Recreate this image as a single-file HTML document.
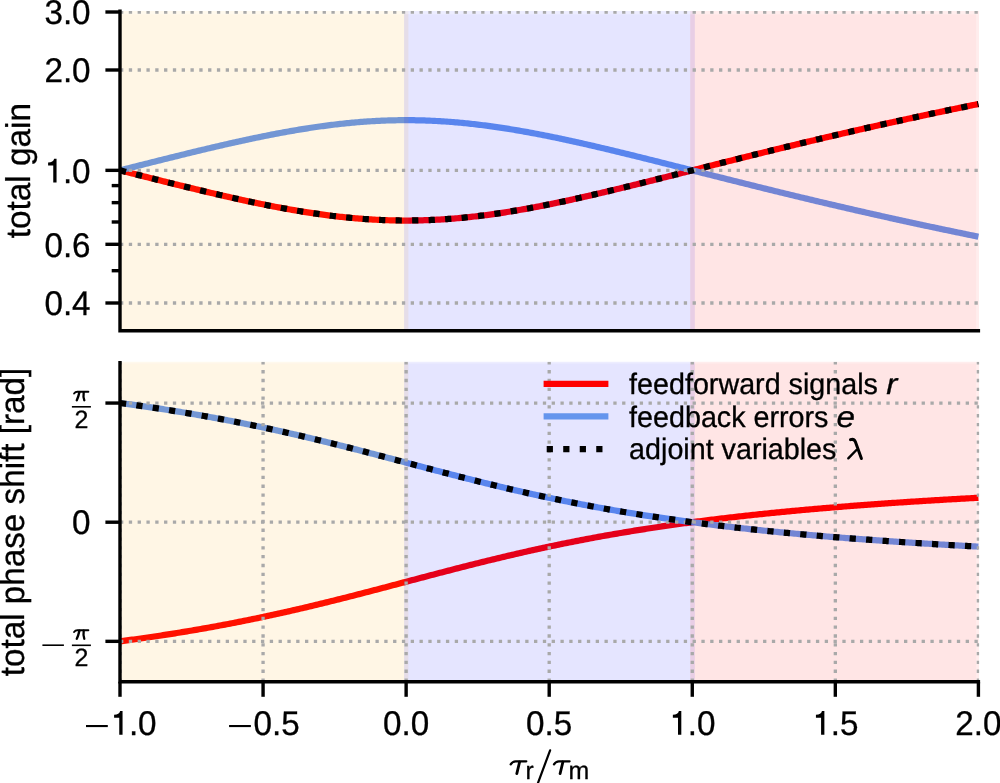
<!DOCTYPE html><html><head><meta charset="utf-8"><style>html,body{margin:0;padding:0;background:#fff;overflow:hidden}svg{display:block;will-change:transform}text{font-family:"Liberation Sans",sans-serif;text-rendering:geometricPrecision;fill:#000;stroke:#000;stroke-width:0.3px}</style></head><body>
<svg width="1000" height="783" viewBox="0 0 1000 783">
<defs><clipPath id="ct"><rect x="120.0" y="10.9" width="859.1" height="319.90000000000003"/></clipPath><clipPath id="cb"><rect x="120.0" y="361.8" width="859.1" height="319.90000000000003"/></clipPath></defs>
<g clip-path="url(#ct)" fill="none">
<path d="M120.00,170.35 L121.72,170.79 L123.44,171.22 L125.16,171.66 L126.88,172.09 L128.60,172.53 L130.32,172.96 L132.04,173.40 L133.76,173.83 L135.48,174.26 L137.20,174.70 L138.92,175.13 L140.64,175.57 L142.36,176.00 L144.08,176.43 L145.80,176.87 L147.52,177.30 L149.24,177.73 L150.96,178.17 L152.68,178.60 L154.40,179.03 L156.13,179.46 L157.85,179.89 L159.57,180.32 L161.29,180.75 L163.01,181.18 L164.73,181.61 L166.45,182.04 L168.17,182.47 L169.89,182.90 L171.61,183.32 L173.33,183.75 L175.05,184.18 L176.77,184.60 L178.49,185.03 L180.21,185.45 L181.93,185.87 L183.65,186.30 L185.37,186.72 L187.09,187.14 L188.81,187.56 L190.53,187.98 L192.25,188.39 L193.97,188.81 L195.69,189.23 L197.41,189.64 L199.13,190.05 L200.85,190.47 L202.57,190.88 L204.29,191.29 L206.01,191.70 L207.73,192.11 L209.45,192.51 L211.17,192.92 L212.89,193.32 L214.61,193.73 L216.33,194.13 L218.05,194.53 L219.77,194.93 L221.49,195.33 L223.21,195.72 L224.93,196.12 L226.65,196.51 L228.38,196.90 L230.10,197.29 L231.82,197.68 L233.54,198.06 L235.26,198.45 L236.98,198.83 L238.70,199.21 L240.42,199.59 L242.14,199.96 L243.86,200.34 L245.58,200.71 L247.30,201.08 L249.02,201.45 L250.74,201.81 L252.46,202.18 L254.18,202.54 L255.90,202.90 L257.62,203.26 L259.34,203.61 L261.06,203.96 L262.78,204.31 L264.50,204.66 L266.22,205.01 L267.94,205.35 L269.66,205.69 L271.38,206.02 L273.10,206.36 L274.82,206.69 L276.54,207.02 L278.26,207.34 L279.98,207.67 L281.70,207.99 L283.42,208.30 L285.14,208.62 L286.86,208.93 L288.58,209.24 L290.30,209.54 L292.02,209.84 L293.74,210.14 L295.46,210.43 L297.18,210.72 L298.91,211.01 L300.63,211.30 L302.35,211.58 L304.07,211.85 L305.79,212.13 L307.51,212.40 L309.23,212.66 L310.95,212.93 L312.67,213.19 L314.39,213.44 L316.11,213.69 L317.83,213.94 L319.55,214.18 L321.27,214.42 L322.99,214.66 L324.71,214.89 L326.43,215.11 L328.15,215.34 L329.87,215.56 L331.59,215.77 L333.31,215.98 L335.03,216.19 L336.75,216.39 L338.47,216.59 L340.19,216.78 L341.91,216.97 L343.63,217.15 L345.35,217.33 L347.07,217.50 L348.79,217.67 L350.51,217.84 L352.23,218.00 L353.95,218.16 L355.67,218.31 L357.39,218.45 L359.11,218.60 L360.83,218.73 L362.55,218.86 L364.27,218.99 L365.99,219.11 L367.71,219.23 L369.43,219.34 L371.16,219.45 L372.88,219.55 L374.60,219.65 L376.32,219.74 L378.04,219.83 L379.76,219.91 L381.48,219.99 L383.20,220.06 L384.92,220.13 L386.64,220.19 L388.36,220.25 L390.08,220.30 L391.80,220.34 L393.52,220.38 L395.24,220.42 L396.96,220.45 L398.68,220.48 L400.40,220.50 L402.12,220.51 L403.84,220.52 L405.56,220.52 L407.28,220.52 L409.00,220.52 L410.72,220.51 L412.44,220.49 L414.16,220.47 L415.88,220.44 L417.60,220.41 L419.32,220.37 L421.04,220.33 L422.76,220.28 L424.48,220.23 L426.20,220.17 L427.92,220.11 L429.64,220.04 L431.36,219.96 L433.08,219.88 L434.80,219.80 L436.52,219.71 L438.24,219.62 L439.96,219.52 L441.68,219.42 L443.41,219.31 L445.13,219.19 L446.85,219.07 L448.57,218.95 L450.29,218.82 L452.01,218.69 L453.73,218.55 L455.45,218.41 L457.17,218.26 L458.89,218.10 L460.61,217.95 L462.33,217.78 L464.05,217.62 L465.77,217.45 L467.49,217.27 L469.21,217.09 L470.93,216.90 L472.65,216.71 L474.37,216.52 L476.09,216.32 L477.81,216.12 L479.53,215.91 L481.25,215.70 L482.97,215.48 L484.69,215.26 L486.41,215.04 L488.13,214.81 L489.85,214.58 L491.57,214.34 L493.29,214.10 L495.01,213.86 L496.73,213.61 L498.45,213.36 L500.17,213.10 L501.89,212.84 L503.61,212.58 L505.33,212.31 L507.05,212.04 L508.77,211.76 L510.49,211.48 L512.21,211.20 L513.94,210.92 L515.66,210.63 L517.38,210.34 L519.10,210.04 L520.82,209.74 L522.54,209.44 L524.26,209.13 L525.98,208.82 L527.70,208.51 L529.42,208.20 L531.14,207.88 L532.86,207.56 L534.58,207.24 L536.30,206.91 L538.02,206.58 L539.74,206.25 L541.46,205.91 L543.18,205.57 L544.90,205.23 L546.62,204.89 L548.34,204.55 L550.06,204.20 L551.78,203.85 L553.50,203.49 L555.22,203.14 L556.94,202.78 L558.66,202.42 L560.38,202.06 L562.10,201.69 L563.82,201.33 L565.54,200.96 L567.26,200.59 L568.98,200.21 L570.70,199.84 L572.42,199.46 L574.14,199.08 L575.86,198.70 L577.58,198.32 L579.30,197.93 L581.02,197.55 L582.74,197.16 L584.46,196.77 L586.19,196.38 L587.91,195.98 L589.63,195.59 L591.35,195.19 L593.07,194.80 L594.79,194.40 L596.51,194.00 L598.23,193.59 L599.95,193.19 L601.67,192.78 L603.39,192.38 L605.11,191.97 L606.83,191.56 L608.55,191.15 L610.27,190.74 L611.99,190.33 L613.71,189.92 L615.43,189.50 L617.15,189.09 L618.87,188.67 L620.59,188.25 L622.31,187.84 L624.03,187.42 L625.75,187.00 L627.47,186.58 L629.19,186.15 L630.91,185.73 L632.63,185.31 L634.35,184.88 L636.07,184.46 L637.79,184.03 L639.51,183.61 L641.23,183.18 L642.95,182.76 L644.67,182.33 L646.39,181.90 L648.11,181.47 L649.83,181.04 L651.55,180.61 L653.27,180.18 L654.99,179.75 L656.72,179.32 L658.44,178.89 L660.16,178.45 L661.88,178.02 L663.60,177.59 L665.32,177.16 L667.04,176.72 L668.76,176.29 L670.48,175.86 L672.20,175.42 L673.92,174.99 L675.64,174.55 L677.36,174.12 L679.08,173.69 L680.80,173.25 L682.52,172.82 L684.24,172.38 L685.96,171.95 L687.68,171.51 L689.40,171.08 L691.12,170.64 L692.84,170.20 L694.56,169.77 L696.28,169.33 L698.00,168.90 L699.72,168.46 L701.44,168.03 L703.16,167.59 L704.88,167.16 L706.60,166.72 L708.32,166.29 L710.04,165.86 L711.76,165.42 L713.48,164.99 L715.20,164.55 L716.92,164.12 L718.64,163.69 L720.36,163.25 L722.08,162.82 L723.80,162.39 L725.52,161.95 L727.24,161.52 L728.97,161.09 L730.69,160.66 L732.41,160.23 L734.13,159.79 L735.85,159.36 L737.57,158.93 L739.29,158.50 L741.01,158.07 L742.73,157.64 L744.45,157.21 L746.17,156.78 L747.89,156.36 L749.61,155.93 L751.33,155.50 L753.05,155.07 L754.77,154.65 L756.49,154.22 L758.21,153.79 L759.93,153.37 L761.65,152.94 L763.37,152.52 L765.09,152.09 L766.81,151.67 L768.53,151.24 L770.25,150.82 L771.97,150.40 L773.69,149.98 L775.41,149.55 L777.13,149.13 L778.85,148.71 L780.57,148.29 L782.29,147.87 L784.01,147.45 L785.73,147.04 L787.45,146.62 L789.17,146.20 L790.89,145.78 L792.61,145.37 L794.33,144.95 L796.05,144.53 L797.77,144.12 L799.49,143.71 L801.22,143.29 L802.94,142.88 L804.66,142.47 L806.38,142.05 L808.10,141.64 L809.82,141.23 L811.54,140.82 L813.26,140.41 L814.98,140.00 L816.70,139.59 L818.42,139.19 L820.14,138.78 L821.86,138.37 L823.58,137.97 L825.30,137.56 L827.02,137.15 L828.74,136.75 L830.46,136.35 L832.18,135.94 L833.90,135.54 L835.62,135.14 L837.34,134.74 L839.06,134.34 L840.78,133.94 L842.50,133.54 L844.22,133.14 L845.94,132.74 L847.66,132.34 L849.38,131.95 L851.10,131.55 L852.82,131.15 L854.54,130.76 L856.26,130.36 L857.98,129.97 L859.70,129.58 L861.42,129.19 L863.14,128.79 L864.86,128.40 L866.58,128.01 L868.30,127.62 L870.02,127.23 L871.75,126.84 L873.47,126.46 L875.19,126.07 L876.91,125.68 L878.63,125.30 L880.35,124.91 L882.07,124.53 L883.79,124.14 L885.51,123.76 L887.23,123.38 L888.95,122.99 L890.67,122.61 L892.39,122.23 L894.11,121.85 L895.83,121.47 L897.55,121.09 L899.27,120.72 L900.99,120.34 L902.71,119.96 L904.43,119.59 L906.15,119.21 L907.87,118.83 L909.59,118.46 L911.31,118.09 L913.03,117.71 L914.75,117.34 L916.47,116.97 L918.19,116.60 L919.91,116.23 L921.63,115.86 L923.35,115.49 L925.07,115.12 L926.79,114.75 L928.51,114.39 L930.23,114.02 L931.95,113.66 L933.67,113.29 L935.39,112.93 L937.11,112.56 L938.83,112.20 L940.55,111.84 L942.27,111.47 L944.00,111.11 L945.72,110.75 L947.44,110.39 L949.16,110.03 L950.88,109.67 L952.60,109.32 L954.32,108.96 L956.04,108.60 L957.76,108.25 L959.48,107.89 L961.20,107.54 L962.92,107.18 L964.64,106.83 L966.36,106.48 L968.08,106.12 L969.80,105.77 L971.52,105.42 L973.24,105.07 L974.96,104.72 L976.68,104.37 L978.40,104.02" stroke="#ff0000" stroke-width="6.2325"/>
<path d="M120.00,170.35 L121.72,169.91 L123.44,169.48 L125.16,169.04 L126.88,168.61 L128.60,168.17 L130.32,167.74 L132.04,167.30 L133.76,166.87 L135.48,166.44 L137.20,166.00 L138.92,165.57 L140.64,165.13 L142.36,164.70 L144.08,164.27 L145.80,163.83 L147.52,163.40 L149.24,162.97 L150.96,162.53 L152.68,162.10 L154.40,161.67 L156.13,161.24 L157.85,160.81 L159.57,160.38 L161.29,159.95 L163.01,159.52 L164.73,159.09 L166.45,158.66 L168.17,158.23 L169.89,157.80 L171.61,157.38 L173.33,156.95 L175.05,156.52 L176.77,156.10 L178.49,155.67 L180.21,155.25 L181.93,154.83 L183.65,154.40 L185.37,153.98 L187.09,153.56 L188.81,153.14 L190.53,152.72 L192.25,152.31 L193.97,151.89 L195.69,151.47 L197.41,151.06 L199.13,150.65 L200.85,150.23 L202.57,149.82 L204.29,149.41 L206.01,149.00 L207.73,148.59 L209.45,148.19 L211.17,147.78 L212.89,147.38 L214.61,146.97 L216.33,146.57 L218.05,146.17 L219.77,145.77 L221.49,145.37 L223.21,144.98 L224.93,144.58 L226.65,144.19 L228.38,143.80 L230.10,143.41 L231.82,143.02 L233.54,142.64 L235.26,142.25 L236.98,141.87 L238.70,141.49 L240.42,141.11 L242.14,140.74 L243.86,140.36 L245.58,139.99 L247.30,139.62 L249.02,139.25 L250.74,138.89 L252.46,138.52 L254.18,138.16 L255.90,137.80 L257.62,137.44 L259.34,137.09 L261.06,136.74 L262.78,136.39 L264.50,136.04 L266.22,135.69 L267.94,135.35 L269.66,135.01 L271.38,134.68 L273.10,134.34 L274.82,134.01 L276.54,133.68 L278.26,133.36 L279.98,133.03 L281.70,132.71 L283.42,132.40 L285.14,132.08 L286.86,131.77 L288.58,131.46 L290.30,131.16 L292.02,130.86 L293.74,130.56 L295.46,130.27 L297.18,129.98 L298.91,129.69 L300.63,129.40 L302.35,129.12 L304.07,128.85 L305.79,128.57 L307.51,128.30 L309.23,128.04 L310.95,127.77 L312.67,127.51 L314.39,127.26 L316.11,127.01 L317.83,126.76 L319.55,126.52 L321.27,126.28 L322.99,126.04 L324.71,125.81 L326.43,125.59 L328.15,125.36 L329.87,125.14 L331.59,124.93 L333.31,124.72 L335.03,124.51 L336.75,124.31 L338.47,124.11 L340.19,123.92 L341.91,123.73 L343.63,123.55 L345.35,123.37 L347.07,123.20 L348.79,123.03 L350.51,122.86 L352.23,122.70 L353.95,122.54 L355.67,122.39 L357.39,122.25 L359.11,122.10 L360.83,121.97 L362.55,121.84 L364.27,121.71 L365.99,121.59 L367.71,121.47 L369.43,121.36 L371.16,121.25 L372.88,121.15 L374.60,121.05 L376.32,120.96 L378.04,120.87 L379.76,120.79 L381.48,120.71 L383.20,120.64 L384.92,120.57 L386.64,120.51 L388.36,120.45 L390.08,120.40 L391.80,120.36 L393.52,120.32 L395.24,120.28 L396.96,120.25 L398.68,120.22 L400.40,120.20 L402.12,120.19 L403.84,120.18 L405.56,120.18 L407.28,120.18 L409.00,120.18 L410.72,120.19 L412.44,120.21 L414.16,120.23 L415.88,120.26 L417.60,120.29 L419.32,120.33 L421.04,120.37 L422.76,120.42 L424.48,120.47 L426.20,120.53 L427.92,120.59 L429.64,120.66 L431.36,120.74 L433.08,120.82 L434.80,120.90 L436.52,120.99 L438.24,121.08 L439.96,121.18 L441.68,121.28 L443.41,121.39 L445.13,121.51 L446.85,121.63 L448.57,121.75 L450.29,121.88 L452.01,122.01 L453.73,122.15 L455.45,122.29 L457.17,122.44 L458.89,122.60 L460.61,122.75 L462.33,122.92 L464.05,123.08 L465.77,123.25 L467.49,123.43 L469.21,123.61 L470.93,123.80 L472.65,123.99 L474.37,124.18 L476.09,124.38 L477.81,124.58 L479.53,124.79 L481.25,125.00 L482.97,125.22 L484.69,125.44 L486.41,125.66 L488.13,125.89 L489.85,126.12 L491.57,126.36 L493.29,126.60 L495.01,126.84 L496.73,127.09 L498.45,127.34 L500.17,127.60 L501.89,127.86 L503.61,128.12 L505.33,128.39 L507.05,128.66 L508.77,128.94 L510.49,129.22 L512.21,129.50 L513.94,129.78 L515.66,130.07 L517.38,130.36 L519.10,130.66 L520.82,130.96 L522.54,131.26 L524.26,131.57 L525.98,131.88 L527.70,132.19 L529.42,132.50 L531.14,132.82 L532.86,133.14 L534.58,133.46 L536.30,133.79 L538.02,134.12 L539.74,134.45 L541.46,134.79 L543.18,135.13 L544.90,135.47 L546.62,135.81 L548.34,136.15 L550.06,136.50 L551.78,136.85 L553.50,137.21 L555.22,137.56 L556.94,137.92 L558.66,138.28 L560.38,138.64 L562.10,139.01 L563.82,139.37 L565.54,139.74 L567.26,140.11 L568.98,140.49 L570.70,140.86 L572.42,141.24 L574.14,141.62 L575.86,142.00 L577.58,142.38 L579.30,142.77 L581.02,143.15 L582.74,143.54 L584.46,143.93 L586.19,144.32 L587.91,144.72 L589.63,145.11 L591.35,145.51 L593.07,145.90 L594.79,146.30 L596.51,146.70 L598.23,147.11 L599.95,147.51 L601.67,147.92 L603.39,148.32 L605.11,148.73 L606.83,149.14 L608.55,149.55 L610.27,149.96 L611.99,150.37 L613.71,150.78 L615.43,151.20 L617.15,151.61 L618.87,152.03 L620.59,152.45 L622.31,152.86 L624.03,153.28 L625.75,153.70 L627.47,154.12 L629.19,154.55 L630.91,154.97 L632.63,155.39 L634.35,155.82 L636.07,156.24 L637.79,156.67 L639.51,157.09 L641.23,157.52 L642.95,157.94 L644.67,158.37 L646.39,158.80 L648.11,159.23 L649.83,159.66 L651.55,160.09 L653.27,160.52 L654.99,160.95 L656.72,161.38 L658.44,161.81 L660.16,162.25 L661.88,162.68 L663.60,163.11 L665.32,163.54 L667.04,163.98 L668.76,164.41 L670.48,164.84 L672.20,165.28 L673.92,165.71 L675.64,166.15 L677.36,166.58 L679.08,167.01 L680.80,167.45 L682.52,167.88 L684.24,168.32 L685.96,168.75 L687.68,169.19 L689.40,169.62 L691.12,170.06 L692.84,170.50 L694.56,170.93 L696.28,171.37 L698.00,171.80 L699.72,172.24 L701.44,172.67 L703.16,173.11 L704.88,173.54 L706.60,173.98 L708.32,174.41 L710.04,174.84 L711.76,175.28 L713.48,175.71 L715.20,176.15 L716.92,176.58 L718.64,177.01 L720.36,177.45 L722.08,177.88 L723.80,178.31 L725.52,178.75 L727.24,179.18 L728.97,179.61 L730.69,180.04 L732.41,180.47 L734.13,180.91 L735.85,181.34 L737.57,181.77 L739.29,182.20 L741.01,182.63 L742.73,183.06 L744.45,183.49 L746.17,183.92 L747.89,184.34 L749.61,184.77 L751.33,185.20 L753.05,185.63 L754.77,186.05 L756.49,186.48 L758.21,186.91 L759.93,187.33 L761.65,187.76 L763.37,188.18 L765.09,188.61 L766.81,189.03 L768.53,189.46 L770.25,189.88 L771.97,190.30 L773.69,190.72 L775.41,191.15 L777.13,191.57 L778.85,191.99 L780.57,192.41 L782.29,192.83 L784.01,193.25 L785.73,193.66 L787.45,194.08 L789.17,194.50 L790.89,194.92 L792.61,195.33 L794.33,195.75 L796.05,196.17 L797.77,196.58 L799.49,196.99 L801.22,197.41 L802.94,197.82 L804.66,198.23 L806.38,198.65 L808.10,199.06 L809.82,199.47 L811.54,199.88 L813.26,200.29 L814.98,200.70 L816.70,201.11 L818.42,201.51 L820.14,201.92 L821.86,202.33 L823.58,202.73 L825.30,203.14 L827.02,203.55 L828.74,203.95 L830.46,204.35 L832.18,204.76 L833.90,205.16 L835.62,205.56 L837.34,205.96 L839.06,206.36 L840.78,206.76 L842.50,207.16 L844.22,207.56 L845.94,207.96 L847.66,208.36 L849.38,208.75 L851.10,209.15 L852.82,209.55 L854.54,209.94 L856.26,210.34 L857.98,210.73 L859.70,211.12 L861.42,211.51 L863.14,211.91 L864.86,212.30 L866.58,212.69 L868.30,213.08 L870.02,213.47 L871.75,213.86 L873.47,214.24 L875.19,214.63 L876.91,215.02 L878.63,215.40 L880.35,215.79 L882.07,216.17 L883.79,216.56 L885.51,216.94 L887.23,217.32 L888.95,217.71 L890.67,218.09 L892.39,218.47 L894.11,218.85 L895.83,219.23 L897.55,219.61 L899.27,219.98 L900.99,220.36 L902.71,220.74 L904.43,221.11 L906.15,221.49 L907.87,221.87 L909.59,222.24 L911.31,222.61 L913.03,222.99 L914.75,223.36 L916.47,223.73 L918.19,224.10 L919.91,224.47 L921.63,224.84 L923.35,225.21 L925.07,225.58 L926.79,225.95 L928.51,226.31 L930.23,226.68 L931.95,227.04 L933.67,227.41 L935.39,227.77 L937.11,228.14 L938.83,228.50 L940.55,228.86 L942.27,229.23 L944.00,229.59 L945.72,229.95 L947.44,230.31 L949.16,230.67 L950.88,231.03 L952.60,231.38 L954.32,231.74 L956.04,232.10 L957.76,232.45 L959.48,232.81 L961.20,233.16 L962.92,233.52 L964.64,233.87 L966.36,234.22 L968.08,234.58 L969.80,234.93 L971.52,235.28 L973.24,235.63 L974.96,235.98 L976.68,236.33 L978.40,236.68" stroke="#6495ed" stroke-width="6.2325"/>
</g>
<g clip-path="url(#ct)"><rect x="117.92" y="14.10" width="290.51" height="318.78" fill="#ffa500" fill-opacity="0.1"/><rect x="404.05" y="14.10" width="290.81" height="318.78" fill="#0000ff" fill-opacity="0.1"/><rect x="690.19" y="14.10" width="286.21" height="318.78" fill="#ff0000" fill-opacity="0.1"/><rect x="976.40" y="14.10" width="2.70" height="318.78" fill="#ff0000" fill-opacity="0.07"/><rect x="117.92" y="9.22" width="290.51" height="4.88" fill="#ffa500" fill-opacity="0.07"/><rect x="404.05" y="9.22" width="290.81" height="4.88" fill="#0000ff" fill-opacity="0.07"/><rect x="690.19" y="9.22" width="288.91" height="4.88" fill="#ff0000" fill-opacity="0.07"/></g>
<g stroke="#a9a9a9" stroke-width="3.3240000000000003" stroke-dasharray="3.324 5.485" clip-path="url(#ct)">
<line x1="120.0" y1="303.00" x2="978.4" y2="303.00"/>
<line x1="120.0" y1="244.30" x2="978.4" y2="244.30"/>
<line x1="120.0" y1="170.35" x2="978.4" y2="170.35"/>
<line x1="120.0" y1="70.00" x2="978.4" y2="70.00"/>
<line x1="120.0" y1="12.15" x2="978.4" y2="12.15"/>
</g>
<g clip-path="url(#ct)" fill="none"><path d="M120.00,170.35 L121.72,170.79 L123.44,171.22 L125.16,171.66 L126.88,172.09 L128.60,172.53 L130.32,172.96 L132.04,173.40 L133.76,173.83 L135.48,174.26 L137.20,174.70 L138.92,175.13 L140.64,175.57 L142.36,176.00 L144.08,176.43 L145.80,176.87 L147.52,177.30 L149.24,177.73 L150.96,178.17 L152.68,178.60 L154.40,179.03 L156.13,179.46 L157.85,179.89 L159.57,180.32 L161.29,180.75 L163.01,181.18 L164.73,181.61 L166.45,182.04 L168.17,182.47 L169.89,182.90 L171.61,183.32 L173.33,183.75 L175.05,184.18 L176.77,184.60 L178.49,185.03 L180.21,185.45 L181.93,185.87 L183.65,186.30 L185.37,186.72 L187.09,187.14 L188.81,187.56 L190.53,187.98 L192.25,188.39 L193.97,188.81 L195.69,189.23 L197.41,189.64 L199.13,190.05 L200.85,190.47 L202.57,190.88 L204.29,191.29 L206.01,191.70 L207.73,192.11 L209.45,192.51 L211.17,192.92 L212.89,193.32 L214.61,193.73 L216.33,194.13 L218.05,194.53 L219.77,194.93 L221.49,195.33 L223.21,195.72 L224.93,196.12 L226.65,196.51 L228.38,196.90 L230.10,197.29 L231.82,197.68 L233.54,198.06 L235.26,198.45 L236.98,198.83 L238.70,199.21 L240.42,199.59 L242.14,199.96 L243.86,200.34 L245.58,200.71 L247.30,201.08 L249.02,201.45 L250.74,201.81 L252.46,202.18 L254.18,202.54 L255.90,202.90 L257.62,203.26 L259.34,203.61 L261.06,203.96 L262.78,204.31 L264.50,204.66 L266.22,205.01 L267.94,205.35 L269.66,205.69 L271.38,206.02 L273.10,206.36 L274.82,206.69 L276.54,207.02 L278.26,207.34 L279.98,207.67 L281.70,207.99 L283.42,208.30 L285.14,208.62 L286.86,208.93 L288.58,209.24 L290.30,209.54 L292.02,209.84 L293.74,210.14 L295.46,210.43 L297.18,210.72 L298.91,211.01 L300.63,211.30 L302.35,211.58 L304.07,211.85 L305.79,212.13 L307.51,212.40 L309.23,212.66 L310.95,212.93 L312.67,213.19 L314.39,213.44 L316.11,213.69 L317.83,213.94 L319.55,214.18 L321.27,214.42 L322.99,214.66 L324.71,214.89 L326.43,215.11 L328.15,215.34 L329.87,215.56 L331.59,215.77 L333.31,215.98 L335.03,216.19 L336.75,216.39 L338.47,216.59 L340.19,216.78 L341.91,216.97 L343.63,217.15 L345.35,217.33 L347.07,217.50 L348.79,217.67 L350.51,217.84 L352.23,218.00 L353.95,218.16 L355.67,218.31 L357.39,218.45 L359.11,218.60 L360.83,218.73 L362.55,218.86 L364.27,218.99 L365.99,219.11 L367.71,219.23 L369.43,219.34 L371.16,219.45 L372.88,219.55 L374.60,219.65 L376.32,219.74 L378.04,219.83 L379.76,219.91 L381.48,219.99 L383.20,220.06 L384.92,220.13 L386.64,220.19 L388.36,220.25 L390.08,220.30 L391.80,220.34 L393.52,220.38 L395.24,220.42 L396.96,220.45 L398.68,220.48 L400.40,220.50 L402.12,220.51 L403.84,220.52 L405.56,220.52 L407.28,220.52 L409.00,220.52 L410.72,220.51 L412.44,220.49 L414.16,220.47 L415.88,220.44 L417.60,220.41 L419.32,220.37 L421.04,220.33 L422.76,220.28 L424.48,220.23 L426.20,220.17 L427.92,220.11 L429.64,220.04 L431.36,219.96 L433.08,219.88 L434.80,219.80 L436.52,219.71 L438.24,219.62 L439.96,219.52 L441.68,219.42 L443.41,219.31 L445.13,219.19 L446.85,219.07 L448.57,218.95 L450.29,218.82 L452.01,218.69 L453.73,218.55 L455.45,218.41 L457.17,218.26 L458.89,218.10 L460.61,217.95 L462.33,217.78 L464.05,217.62 L465.77,217.45 L467.49,217.27 L469.21,217.09 L470.93,216.90 L472.65,216.71 L474.37,216.52 L476.09,216.32 L477.81,216.12 L479.53,215.91 L481.25,215.70 L482.97,215.48 L484.69,215.26 L486.41,215.04 L488.13,214.81 L489.85,214.58 L491.57,214.34 L493.29,214.10 L495.01,213.86 L496.73,213.61 L498.45,213.36 L500.17,213.10 L501.89,212.84 L503.61,212.58 L505.33,212.31 L507.05,212.04 L508.77,211.76 L510.49,211.48 L512.21,211.20 L513.94,210.92 L515.66,210.63 L517.38,210.34 L519.10,210.04 L520.82,209.74 L522.54,209.44 L524.26,209.13 L525.98,208.82 L527.70,208.51 L529.42,208.20 L531.14,207.88 L532.86,207.56 L534.58,207.24 L536.30,206.91 L538.02,206.58 L539.74,206.25 L541.46,205.91 L543.18,205.57 L544.90,205.23 L546.62,204.89 L548.34,204.55 L550.06,204.20 L551.78,203.85 L553.50,203.49 L555.22,203.14 L556.94,202.78 L558.66,202.42 L560.38,202.06 L562.10,201.69 L563.82,201.33 L565.54,200.96 L567.26,200.59 L568.98,200.21 L570.70,199.84 L572.42,199.46 L574.14,199.08 L575.86,198.70 L577.58,198.32 L579.30,197.93 L581.02,197.55 L582.74,197.16 L584.46,196.77 L586.19,196.38 L587.91,195.98 L589.63,195.59 L591.35,195.19 L593.07,194.80 L594.79,194.40 L596.51,194.00 L598.23,193.59 L599.95,193.19 L601.67,192.78 L603.39,192.38 L605.11,191.97 L606.83,191.56 L608.55,191.15 L610.27,190.74 L611.99,190.33 L613.71,189.92 L615.43,189.50 L617.15,189.09 L618.87,188.67 L620.59,188.25 L622.31,187.84 L624.03,187.42 L625.75,187.00 L627.47,186.58 L629.19,186.15 L630.91,185.73 L632.63,185.31 L634.35,184.88 L636.07,184.46 L637.79,184.03 L639.51,183.61 L641.23,183.18 L642.95,182.76 L644.67,182.33 L646.39,181.90 L648.11,181.47 L649.83,181.04 L651.55,180.61 L653.27,180.18 L654.99,179.75 L656.72,179.32 L658.44,178.89 L660.16,178.45 L661.88,178.02 L663.60,177.59 L665.32,177.16 L667.04,176.72 L668.76,176.29 L670.48,175.86 L672.20,175.42 L673.92,174.99 L675.64,174.55 L677.36,174.12 L679.08,173.69 L680.80,173.25 L682.52,172.82 L684.24,172.38 L685.96,171.95 L687.68,171.51 L689.40,171.08 L691.12,170.64 L692.84,170.20 L694.56,169.77 L696.28,169.33 L698.00,168.90 L699.72,168.46 L701.44,168.03 L703.16,167.59 L704.88,167.16 L706.60,166.72 L708.32,166.29 L710.04,165.86 L711.76,165.42 L713.48,164.99 L715.20,164.55 L716.92,164.12 L718.64,163.69 L720.36,163.25 L722.08,162.82 L723.80,162.39 L725.52,161.95 L727.24,161.52 L728.97,161.09 L730.69,160.66 L732.41,160.23 L734.13,159.79 L735.85,159.36 L737.57,158.93 L739.29,158.50 L741.01,158.07 L742.73,157.64 L744.45,157.21 L746.17,156.78 L747.89,156.36 L749.61,155.93 L751.33,155.50 L753.05,155.07 L754.77,154.65 L756.49,154.22 L758.21,153.79 L759.93,153.37 L761.65,152.94 L763.37,152.52 L765.09,152.09 L766.81,151.67 L768.53,151.24 L770.25,150.82 L771.97,150.40 L773.69,149.98 L775.41,149.55 L777.13,149.13 L778.85,148.71 L780.57,148.29 L782.29,147.87 L784.01,147.45 L785.73,147.04 L787.45,146.62 L789.17,146.20 L790.89,145.78 L792.61,145.37 L794.33,144.95 L796.05,144.53 L797.77,144.12 L799.49,143.71 L801.22,143.29 L802.94,142.88 L804.66,142.47 L806.38,142.05 L808.10,141.64 L809.82,141.23 L811.54,140.82 L813.26,140.41 L814.98,140.00 L816.70,139.59 L818.42,139.19 L820.14,138.78 L821.86,138.37 L823.58,137.97 L825.30,137.56 L827.02,137.15 L828.74,136.75 L830.46,136.35 L832.18,135.94 L833.90,135.54 L835.62,135.14 L837.34,134.74 L839.06,134.34 L840.78,133.94 L842.50,133.54 L844.22,133.14 L845.94,132.74 L847.66,132.34 L849.38,131.95 L851.10,131.55 L852.82,131.15 L854.54,130.76 L856.26,130.36 L857.98,129.97 L859.70,129.58 L861.42,129.19 L863.14,128.79 L864.86,128.40 L866.58,128.01 L868.30,127.62 L870.02,127.23 L871.75,126.84 L873.47,126.46 L875.19,126.07 L876.91,125.68 L878.63,125.30 L880.35,124.91 L882.07,124.53 L883.79,124.14 L885.51,123.76 L887.23,123.38 L888.95,122.99 L890.67,122.61 L892.39,122.23 L894.11,121.85 L895.83,121.47 L897.55,121.09 L899.27,120.72 L900.99,120.34 L902.71,119.96 L904.43,119.59 L906.15,119.21 L907.87,118.83 L909.59,118.46 L911.31,118.09 L913.03,117.71 L914.75,117.34 L916.47,116.97 L918.19,116.60 L919.91,116.23 L921.63,115.86 L923.35,115.49 L925.07,115.12 L926.79,114.75 L928.51,114.39 L930.23,114.02 L931.95,113.66 L933.67,113.29 L935.39,112.93 L937.11,112.56 L938.83,112.20 L940.55,111.84 L942.27,111.47 L944.00,111.11 L945.72,110.75 L947.44,110.39 L949.16,110.03 L950.88,109.67 L952.60,109.32 L954.32,108.96 L956.04,108.60 L957.76,108.25 L959.48,107.89 L961.20,107.54 L962.92,107.18 L964.64,106.83 L966.36,106.48 L968.08,106.12 L969.80,105.77 L971.52,105.42 L973.24,105.07 L974.96,104.72 L976.68,104.37 L978.40,104.02" stroke="#000" stroke-width="6.2325" stroke-dasharray="6.232 10.284"/></g>
<g clip-path="url(#cb)" fill="none">
<path d="M120.00,641.34 L121.72,641.12 L123.44,640.89 L125.16,640.65 L126.88,640.42 L128.60,640.19 L130.32,639.95 L132.04,639.71 L133.76,639.48 L135.48,639.24 L137.20,638.99 L138.92,638.75 L140.64,638.51 L142.36,638.26 L144.08,638.01 L145.80,637.77 L147.52,637.52 L149.24,637.26 L150.96,637.01 L152.68,636.76 L154.40,636.50 L156.13,636.24 L157.85,635.98 L159.57,635.72 L161.29,635.46 L163.01,635.20 L164.73,634.93 L166.45,634.66 L168.17,634.39 L169.89,634.12 L171.61,633.85 L173.33,633.58 L175.05,633.30 L176.77,633.03 L178.49,632.75 L180.21,632.47 L181.93,632.19 L183.65,631.90 L185.37,631.62 L187.09,631.33 L188.81,631.04 L190.53,630.75 L192.25,630.46 L193.97,630.17 L195.69,629.87 L197.41,629.57 L199.13,629.28 L200.85,628.98 L202.57,628.67 L204.29,628.37 L206.01,628.07 L207.73,627.76 L209.45,627.45 L211.17,627.14 L212.89,626.83 L214.61,626.51 L216.33,626.20 L218.05,625.88 L219.77,625.56 L221.49,625.24 L223.21,624.92 L224.93,624.59 L226.65,624.27 L228.38,623.94 L230.10,623.61 L231.82,623.28 L233.54,622.94 L235.26,622.61 L236.98,622.27 L238.70,621.93 L240.42,621.59 L242.14,621.25 L243.86,620.90 L245.58,620.56 L247.30,620.21 L249.02,619.86 L250.74,619.51 L252.46,619.16 L254.18,618.80 L255.90,618.44 L257.62,618.09 L259.34,617.73 L261.06,617.36 L262.78,617.00 L264.50,616.64 L266.22,616.27 L267.94,615.90 L269.66,615.53 L271.38,615.16 L273.10,614.78 L274.82,614.41 L276.54,614.03 L278.26,613.65 L279.98,613.27 L281.70,612.89 L283.42,612.50 L285.14,612.12 L286.86,611.73 L288.58,611.34 L290.30,610.95 L292.02,610.56 L293.74,610.16 L295.46,609.77 L297.18,609.37 L298.91,608.97 L300.63,608.57 L302.35,608.17 L304.07,607.76 L305.79,607.36 L307.51,606.95 L309.23,606.54 L310.95,606.13 L312.67,605.72 L314.39,605.31 L316.11,604.89 L317.83,604.48 L319.55,604.06 L321.27,603.64 L322.99,603.22 L324.71,602.80 L326.43,602.38 L328.15,601.95 L329.87,601.53 L331.59,601.10 L333.31,600.68 L335.03,600.25 L336.75,599.82 L338.47,599.39 L340.19,598.95 L341.91,598.52 L343.63,598.08 L345.35,597.65 L347.07,597.21 L348.79,596.77 L350.51,596.34 L352.23,595.90 L353.95,595.45 L355.67,595.01 L357.39,594.57 L359.11,594.13 L360.83,593.68 L362.55,593.24 L364.27,592.79 L365.99,592.34 L367.71,591.90 L369.43,591.45 L371.16,591.00 L372.88,590.55 L374.60,590.10 L376.32,589.65 L378.04,589.20 L379.76,588.74 L381.48,588.29 L383.20,587.84 L384.92,587.39 L386.64,586.93 L388.36,586.48 L390.08,586.02 L391.80,585.57 L393.52,585.11 L395.24,584.66 L396.96,584.20 L398.68,583.75 L400.40,583.29 L402.12,582.84 L403.84,582.38 L405.56,581.92 L407.28,581.47 L409.00,581.01 L410.72,580.56 L412.44,580.10 L414.16,579.64 L415.88,579.19 L417.60,578.73 L419.32,578.28 L421.04,577.82 L422.76,577.37 L424.48,576.91 L426.20,576.46 L427.92,576.01 L429.64,575.55 L431.36,575.10 L433.08,574.65 L434.80,574.20 L436.52,573.75 L438.24,573.30 L439.96,572.85 L441.68,572.40 L443.41,571.95 L445.13,571.50 L446.85,571.05 L448.57,570.61 L450.29,570.16 L452.01,569.71 L453.73,569.27 L455.45,568.83 L457.17,568.38 L458.89,567.94 L460.61,567.50 L462.33,567.06 L464.05,566.62 L465.77,566.19 L467.49,565.75 L469.21,565.32 L470.93,564.88 L472.65,564.45 L474.37,564.02 L476.09,563.58 L477.81,563.16 L479.53,562.73 L481.25,562.30 L482.97,561.87 L484.69,561.45 L486.41,561.03 L488.13,560.60 L489.85,560.18 L491.57,559.76 L493.29,559.35 L495.01,558.93 L496.73,558.51 L498.45,558.10 L500.17,557.69 L501.89,557.28 L503.61,556.87 L505.33,556.46 L507.05,556.05 L508.77,555.65 L510.49,555.24 L512.21,554.84 L513.94,554.44 L515.66,554.04 L517.38,553.65 L519.10,553.25 L520.82,552.86 L522.54,552.47 L524.26,552.08 L525.98,551.69 L527.70,551.30 L529.42,550.91 L531.14,550.53 L532.86,550.15 L534.58,549.77 L536.30,549.39 L538.02,549.01 L539.74,548.64 L541.46,548.26 L543.18,547.89 L544.90,547.52 L546.62,547.15 L548.34,546.79 L550.06,546.42 L551.78,546.06 L553.50,545.70 L555.22,545.34 L556.94,544.98 L558.66,544.62 L560.38,544.27 L562.10,543.92 L563.82,543.57 L565.54,543.22 L567.26,542.87 L568.98,542.53 L570.70,542.18 L572.42,541.84 L574.14,541.50 L575.86,541.16 L577.58,540.83 L579.30,540.49 L581.02,540.16 L582.74,539.83 L584.46,539.50 L586.19,539.17 L587.91,538.85 L589.63,538.52 L591.35,538.20 L593.07,537.88 L594.79,537.56 L596.51,537.24 L598.23,536.93 L599.95,536.61 L601.67,536.30 L603.39,535.99 L605.11,535.68 L606.83,535.38 L608.55,535.07 L610.27,534.77 L611.99,534.47 L613.71,534.17 L615.43,533.87 L617.15,533.57 L618.87,533.28 L620.59,532.99 L622.31,532.70 L624.03,532.41 L625.75,532.12 L627.47,531.83 L629.19,531.55 L630.91,531.27 L632.63,530.98 L634.35,530.70 L636.07,530.43 L637.79,530.15 L639.51,529.88 L641.23,529.60 L642.95,529.33 L644.67,529.06 L646.39,528.79 L648.11,528.53 L649.83,528.26 L651.55,528.00 L653.27,527.74 L654.99,527.48 L656.72,527.22 L658.44,526.96 L660.16,526.70 L661.88,526.45 L663.60,526.20 L665.32,525.95 L667.04,525.70 L668.76,525.45 L670.48,525.20 L672.20,524.96 L673.92,524.71 L675.64,524.47 L677.36,524.23 L679.08,523.99 L680.80,523.75 L682.52,523.51 L684.24,523.28 L685.96,523.05 L687.68,522.81 L689.40,522.58 L691.12,522.35 L692.84,522.12 L694.56,521.90 L696.28,521.67 L698.00,521.45 L699.72,521.22 L701.44,521.00 L703.16,520.78 L704.88,520.56 L706.60,520.35 L708.32,520.13 L710.04,519.92 L711.76,519.70 L713.48,519.49 L715.20,519.28 L716.92,519.07 L718.64,518.86 L720.36,518.65 L722.08,518.45 L723.80,518.24 L725.52,518.04 L727.24,517.84 L728.97,517.63 L730.69,517.43 L732.41,517.24 L734.13,517.04 L735.85,516.84 L737.57,516.65 L739.29,516.45 L741.01,516.26 L742.73,516.07 L744.45,515.88 L746.17,515.69 L747.89,515.50 L749.61,515.31 L751.33,515.12 L753.05,514.94 L754.77,514.76 L756.49,514.57 L758.21,514.39 L759.93,514.21 L761.65,514.03 L763.37,513.85 L765.09,513.67 L766.81,513.50 L768.53,513.32 L770.25,513.15 L771.97,512.97 L773.69,512.80 L775.41,512.63 L777.13,512.46 L778.85,512.29 L780.57,512.12 L782.29,511.95 L784.01,511.79 L785.73,511.62 L787.45,511.46 L789.17,511.29 L790.89,511.13 L792.61,510.97 L794.33,510.81 L796.05,510.65 L797.77,510.49 L799.49,510.33 L801.22,510.17 L802.94,510.01 L804.66,509.86 L806.38,509.70 L808.10,509.55 L809.82,509.40 L811.54,509.25 L813.26,509.09 L814.98,508.94 L816.70,508.79 L818.42,508.65 L820.14,508.50 L821.86,508.35 L823.58,508.20 L825.30,508.06 L827.02,507.91 L828.74,507.77 L830.46,507.63 L832.18,507.49 L833.90,507.34 L835.62,507.20 L837.34,507.06 L839.06,506.93 L840.78,506.79 L842.50,506.65 L844.22,506.51 L845.94,506.38 L847.66,506.24 L849.38,506.11 L851.10,505.97 L852.82,505.84 L854.54,505.71 L856.26,505.58 L857.98,505.45 L859.70,505.32 L861.42,505.19 L863.14,505.06 L864.86,504.93 L866.58,504.80 L868.30,504.68 L870.02,504.55 L871.75,504.42 L873.47,504.30 L875.19,504.17 L876.91,504.05 L878.63,503.93 L880.35,503.81 L882.07,503.69 L883.79,503.56 L885.51,503.44 L887.23,503.33 L888.95,503.21 L890.67,503.09 L892.39,502.97 L894.11,502.85 L895.83,502.74 L897.55,502.62 L899.27,502.51 L900.99,502.39 L902.71,502.28 L904.43,502.16 L906.15,502.05 L907.87,501.94 L909.59,501.83 L911.31,501.72 L913.03,501.61 L914.75,501.50 L916.47,501.39 L918.19,501.28 L919.91,501.17 L921.63,501.06 L923.35,500.96 L925.07,500.85 L926.79,500.74 L928.51,500.64 L930.23,500.53 L931.95,500.43 L933.67,500.32 L935.39,500.22 L937.11,500.12 L938.83,500.02 L940.55,499.91 L942.27,499.81 L944.00,499.71 L945.72,499.61 L947.44,499.51 L949.16,499.41 L950.88,499.31 L952.60,499.21 L954.32,499.12 L956.04,499.02 L957.76,498.92 L959.48,498.83 L961.20,498.73 L962.92,498.63 L964.64,498.54 L966.36,498.44 L968.08,498.35 L969.80,498.26 L971.52,498.16 L973.24,498.07 L974.96,497.98 L976.68,497.89 L978.40,497.80" stroke="#ff0000" stroke-width="6.2325"/>
<path d="M120.00,403.06 L121.72,403.28 L123.44,403.51 L125.16,403.75 L126.88,403.98 L128.60,404.21 L130.32,404.45 L132.04,404.69 L133.76,404.92 L135.48,405.16 L137.20,405.41 L138.92,405.65 L140.64,405.89 L142.36,406.14 L144.08,406.39 L145.80,406.63 L147.52,406.88 L149.24,407.14 L150.96,407.39 L152.68,407.64 L154.40,407.90 L156.13,408.16 L157.85,408.42 L159.57,408.68 L161.29,408.94 L163.01,409.20 L164.73,409.47 L166.45,409.74 L168.17,410.01 L169.89,410.28 L171.61,410.55 L173.33,410.82 L175.05,411.10 L176.77,411.37 L178.49,411.65 L180.21,411.93 L181.93,412.21 L183.65,412.50 L185.37,412.78 L187.09,413.07 L188.81,413.36 L190.53,413.65 L192.25,413.94 L193.97,414.23 L195.69,414.53 L197.41,414.83 L199.13,415.12 L200.85,415.42 L202.57,415.73 L204.29,416.03 L206.01,416.33 L207.73,416.64 L209.45,416.95 L211.17,417.26 L212.89,417.57 L214.61,417.89 L216.33,418.20 L218.05,418.52 L219.77,418.84 L221.49,419.16 L223.21,419.48 L224.93,419.81 L226.65,420.13 L228.38,420.46 L230.10,420.79 L231.82,421.12 L233.54,421.46 L235.26,421.79 L236.98,422.13 L238.70,422.47 L240.42,422.81 L242.14,423.15 L243.86,423.50 L245.58,423.84 L247.30,424.19 L249.02,424.54 L250.74,424.89 L252.46,425.24 L254.18,425.60 L255.90,425.96 L257.62,426.31 L259.34,426.67 L261.06,427.04 L262.78,427.40 L264.50,427.76 L266.22,428.13 L267.94,428.50 L269.66,428.87 L271.38,429.24 L273.10,429.62 L274.82,429.99 L276.54,430.37 L278.26,430.75 L279.98,431.13 L281.70,431.51 L283.42,431.90 L285.14,432.28 L286.86,432.67 L288.58,433.06 L290.30,433.45 L292.02,433.84 L293.74,434.24 L295.46,434.63 L297.18,435.03 L298.91,435.43 L300.63,435.83 L302.35,436.23 L304.07,436.64 L305.79,437.04 L307.51,437.45 L309.23,437.86 L310.95,438.27 L312.67,438.68 L314.39,439.09 L316.11,439.51 L317.83,439.92 L319.55,440.34 L321.27,440.76 L322.99,441.18 L324.71,441.60 L326.43,442.02 L328.15,442.45 L329.87,442.87 L331.59,443.30 L333.31,443.72 L335.03,444.15 L336.75,444.58 L338.47,445.01 L340.19,445.45 L341.91,445.88 L343.63,446.32 L345.35,446.75 L347.07,447.19 L348.79,447.63 L350.51,448.06 L352.23,448.50 L353.95,448.95 L355.67,449.39 L357.39,449.83 L359.11,450.27 L360.83,450.72 L362.55,451.16 L364.27,451.61 L365.99,452.06 L367.71,452.50 L369.43,452.95 L371.16,453.40 L372.88,453.85 L374.60,454.30 L376.32,454.75 L378.04,455.20 L379.76,455.66 L381.48,456.11 L383.20,456.56 L384.92,457.01 L386.64,457.47 L388.36,457.92 L390.08,458.38 L391.80,458.83 L393.52,459.29 L395.24,459.74 L396.96,460.20 L398.68,460.65 L400.40,461.11 L402.12,461.56 L403.84,462.02 L405.56,462.48 L407.28,462.93 L409.00,463.39 L410.72,463.84 L412.44,464.30 L414.16,464.76 L415.88,465.21 L417.60,465.67 L419.32,466.12 L421.04,466.58 L422.76,467.03 L424.48,467.49 L426.20,467.94 L427.92,468.39 L429.64,468.85 L431.36,469.30 L433.08,469.75 L434.80,470.20 L436.52,470.65 L438.24,471.10 L439.96,471.55 L441.68,472.00 L443.41,472.45 L445.13,472.90 L446.85,473.35 L448.57,473.79 L450.29,474.24 L452.01,474.69 L453.73,475.13 L455.45,475.57 L457.17,476.02 L458.89,476.46 L460.61,476.90 L462.33,477.34 L464.05,477.78 L465.77,478.21 L467.49,478.65 L469.21,479.08 L470.93,479.52 L472.65,479.95 L474.37,480.38 L476.09,480.82 L477.81,481.24 L479.53,481.67 L481.25,482.10 L482.97,482.53 L484.69,482.95 L486.41,483.37 L488.13,483.80 L489.85,484.22 L491.57,484.64 L493.29,485.05 L495.01,485.47 L496.73,485.89 L498.45,486.30 L500.17,486.71 L501.89,487.12 L503.61,487.53 L505.33,487.94 L507.05,488.35 L508.77,488.75 L510.49,489.16 L512.21,489.56 L513.94,489.96 L515.66,490.36 L517.38,490.75 L519.10,491.15 L520.82,491.54 L522.54,491.93 L524.26,492.32 L525.98,492.71 L527.70,493.10 L529.42,493.49 L531.14,493.87 L532.86,494.25 L534.58,494.63 L536.30,495.01 L538.02,495.39 L539.74,495.76 L541.46,496.14 L543.18,496.51 L544.90,496.88 L546.62,497.25 L548.34,497.61 L550.06,497.98 L551.78,498.34 L553.50,498.70 L555.22,499.06 L556.94,499.42 L558.66,499.78 L560.38,500.13 L562.10,500.48 L563.82,500.83 L565.54,501.18 L567.26,501.53 L568.98,501.87 L570.70,502.22 L572.42,502.56 L574.14,502.90 L575.86,503.24 L577.58,503.57 L579.30,503.91 L581.02,504.24 L582.74,504.57 L584.46,504.90 L586.19,505.23 L587.91,505.55 L589.63,505.88 L591.35,506.20 L593.07,506.52 L594.79,506.84 L596.51,507.16 L598.23,507.47 L599.95,507.79 L601.67,508.10 L603.39,508.41 L605.11,508.72 L606.83,509.02 L608.55,509.33 L610.27,509.63 L611.99,509.93 L613.71,510.23 L615.43,510.53 L617.15,510.83 L618.87,511.12 L620.59,511.41 L622.31,511.70 L624.03,511.99 L625.75,512.28 L627.47,512.57 L629.19,512.85 L630.91,513.13 L632.63,513.42 L634.35,513.70 L636.07,513.97 L637.79,514.25 L639.51,514.52 L641.23,514.80 L642.95,515.07 L644.67,515.34 L646.39,515.61 L648.11,515.87 L649.83,516.14 L651.55,516.40 L653.27,516.66 L654.99,516.92 L656.72,517.18 L658.44,517.44 L660.16,517.70 L661.88,517.95 L663.60,518.20 L665.32,518.45 L667.04,518.70 L668.76,518.95 L670.48,519.20 L672.20,519.44 L673.92,519.69 L675.64,519.93 L677.36,520.17 L679.08,520.41 L680.80,520.65 L682.52,520.89 L684.24,521.12 L685.96,521.35 L687.68,521.59 L689.40,521.82 L691.12,522.05 L692.84,522.28 L694.56,522.50 L696.28,522.73 L698.00,522.95 L699.72,523.18 L701.44,523.40 L703.16,523.62 L704.88,523.84 L706.60,524.05 L708.32,524.27 L710.04,524.48 L711.76,524.70 L713.48,524.91 L715.20,525.12 L716.92,525.33 L718.64,525.54 L720.36,525.75 L722.08,525.95 L723.80,526.16 L725.52,526.36 L727.24,526.56 L728.97,526.77 L730.69,526.97 L732.41,527.16 L734.13,527.36 L735.85,527.56 L737.57,527.75 L739.29,527.95 L741.01,528.14 L742.73,528.33 L744.45,528.52 L746.17,528.71 L747.89,528.90 L749.61,529.09 L751.33,529.28 L753.05,529.46 L754.77,529.64 L756.49,529.83 L758.21,530.01 L759.93,530.19 L761.65,530.37 L763.37,530.55 L765.09,530.73 L766.81,530.90 L768.53,531.08 L770.25,531.25 L771.97,531.43 L773.69,531.60 L775.41,531.77 L777.13,531.94 L778.85,532.11 L780.57,532.28 L782.29,532.45 L784.01,532.61 L785.73,532.78 L787.45,532.94 L789.17,533.11 L790.89,533.27 L792.61,533.43 L794.33,533.59 L796.05,533.75 L797.77,533.91 L799.49,534.07 L801.22,534.23 L802.94,534.39 L804.66,534.54 L806.38,534.70 L808.10,534.85 L809.82,535.00 L811.54,535.15 L813.26,535.31 L814.98,535.46 L816.70,535.61 L818.42,535.75 L820.14,535.90 L821.86,536.05 L823.58,536.20 L825.30,536.34 L827.02,536.49 L828.74,536.63 L830.46,536.77 L832.18,536.91 L833.90,537.06 L835.62,537.20 L837.34,537.34 L839.06,537.47 L840.78,537.61 L842.50,537.75 L844.22,537.89 L845.94,538.02 L847.66,538.16 L849.38,538.29 L851.10,538.43 L852.82,538.56 L854.54,538.69 L856.26,538.82 L857.98,538.95 L859.70,539.08 L861.42,539.21 L863.14,539.34 L864.86,539.47 L866.58,539.60 L868.30,539.72 L870.02,539.85 L871.75,539.98 L873.47,540.10 L875.19,540.23 L876.91,540.35 L878.63,540.47 L880.35,540.59 L882.07,540.71 L883.79,540.84 L885.51,540.96 L887.23,541.07 L888.95,541.19 L890.67,541.31 L892.39,541.43 L894.11,541.55 L895.83,541.66 L897.55,541.78 L899.27,541.89 L900.99,542.01 L902.71,542.12 L904.43,542.24 L906.15,542.35 L907.87,542.46 L909.59,542.57 L911.31,542.68 L913.03,542.79 L914.75,542.90 L916.47,543.01 L918.19,543.12 L919.91,543.23 L921.63,543.34 L923.35,543.44 L925.07,543.55 L926.79,543.66 L928.51,543.76 L930.23,543.87 L931.95,543.97 L933.67,544.08 L935.39,544.18 L937.11,544.28 L938.83,544.38 L940.55,544.49 L942.27,544.59 L944.00,544.69 L945.72,544.79 L947.44,544.89 L949.16,544.99 L950.88,545.09 L952.60,545.19 L954.32,545.28 L956.04,545.38 L957.76,545.48 L959.48,545.57 L961.20,545.67 L962.92,545.77 L964.64,545.86 L966.36,545.96 L968.08,546.05 L969.80,546.14 L971.52,546.24 L973.24,546.33 L974.96,546.42 L976.68,546.51 L978.40,546.60" stroke="#6495ed" stroke-width="6.2325"/>
</g>
<g clip-path="url(#cb)"><rect x="117.92" y="363.30" width="290.51" height="320.48" fill="#ffa500" fill-opacity="0.1"/><rect x="404.05" y="363.30" width="290.81" height="320.48" fill="#0000ff" fill-opacity="0.1"/><rect x="690.19" y="363.30" width="286.21" height="320.48" fill="#ff0000" fill-opacity="0.1"/><rect x="976.40" y="363.30" width="2.70" height="320.48" fill="#ff0000" fill-opacity="0.07"/><rect x="117.92" y="360.62" width="290.51" height="2.68" fill="#ffa500" fill-opacity="0.07"/><rect x="404.05" y="360.62" width="290.81" height="2.68" fill="#0000ff" fill-opacity="0.07"/><rect x="690.19" y="360.62" width="288.91" height="2.68" fill="#ff0000" fill-opacity="0.07"/></g>
<g stroke="#a9a9a9" stroke-width="3.3240000000000003" stroke-dasharray="3.324 5.485" clip-path="url(#cb)">
<line x1="120.0" y1="641.34" x2="978.4" y2="641.34"/>
<line x1="120.0" y1="522.20" x2="978.4" y2="522.20"/>
<line x1="120.0" y1="403.06" x2="978.4" y2="403.06"/>
<line x1="120.00" y1="681.7" x2="120.00" y2="361.8"/>
<line x1="263.07" y1="681.7" x2="263.07" y2="361.8"/>
<line x1="406.13" y1="681.7" x2="406.13" y2="361.8"/>
<line x1="549.20" y1="681.7" x2="549.20" y2="361.8"/>
<line x1="692.27" y1="681.7" x2="692.27" y2="361.8"/>
<line x1="835.33" y1="681.7" x2="835.33" y2="361.8"/>
<line x1="978.40" y1="681.7" x2="978.40" y2="361.8"/>
</g>
<g clip-path="url(#cb)" fill="none"><path d="M120.00,403.06 L121.72,403.28 L123.44,403.51 L125.16,403.75 L126.88,403.98 L128.60,404.21 L130.32,404.45 L132.04,404.69 L133.76,404.92 L135.48,405.16 L137.20,405.41 L138.92,405.65 L140.64,405.89 L142.36,406.14 L144.08,406.39 L145.80,406.63 L147.52,406.88 L149.24,407.14 L150.96,407.39 L152.68,407.64 L154.40,407.90 L156.13,408.16 L157.85,408.42 L159.57,408.68 L161.29,408.94 L163.01,409.20 L164.73,409.47 L166.45,409.74 L168.17,410.01 L169.89,410.28 L171.61,410.55 L173.33,410.82 L175.05,411.10 L176.77,411.37 L178.49,411.65 L180.21,411.93 L181.93,412.21 L183.65,412.50 L185.37,412.78 L187.09,413.07 L188.81,413.36 L190.53,413.65 L192.25,413.94 L193.97,414.23 L195.69,414.53 L197.41,414.83 L199.13,415.12 L200.85,415.42 L202.57,415.73 L204.29,416.03 L206.01,416.33 L207.73,416.64 L209.45,416.95 L211.17,417.26 L212.89,417.57 L214.61,417.89 L216.33,418.20 L218.05,418.52 L219.77,418.84 L221.49,419.16 L223.21,419.48 L224.93,419.81 L226.65,420.13 L228.38,420.46 L230.10,420.79 L231.82,421.12 L233.54,421.46 L235.26,421.79 L236.98,422.13 L238.70,422.47 L240.42,422.81 L242.14,423.15 L243.86,423.50 L245.58,423.84 L247.30,424.19 L249.02,424.54 L250.74,424.89 L252.46,425.24 L254.18,425.60 L255.90,425.96 L257.62,426.31 L259.34,426.67 L261.06,427.04 L262.78,427.40 L264.50,427.76 L266.22,428.13 L267.94,428.50 L269.66,428.87 L271.38,429.24 L273.10,429.62 L274.82,429.99 L276.54,430.37 L278.26,430.75 L279.98,431.13 L281.70,431.51 L283.42,431.90 L285.14,432.28 L286.86,432.67 L288.58,433.06 L290.30,433.45 L292.02,433.84 L293.74,434.24 L295.46,434.63 L297.18,435.03 L298.91,435.43 L300.63,435.83 L302.35,436.23 L304.07,436.64 L305.79,437.04 L307.51,437.45 L309.23,437.86 L310.95,438.27 L312.67,438.68 L314.39,439.09 L316.11,439.51 L317.83,439.92 L319.55,440.34 L321.27,440.76 L322.99,441.18 L324.71,441.60 L326.43,442.02 L328.15,442.45 L329.87,442.87 L331.59,443.30 L333.31,443.72 L335.03,444.15 L336.75,444.58 L338.47,445.01 L340.19,445.45 L341.91,445.88 L343.63,446.32 L345.35,446.75 L347.07,447.19 L348.79,447.63 L350.51,448.06 L352.23,448.50 L353.95,448.95 L355.67,449.39 L357.39,449.83 L359.11,450.27 L360.83,450.72 L362.55,451.16 L364.27,451.61 L365.99,452.06 L367.71,452.50 L369.43,452.95 L371.16,453.40 L372.88,453.85 L374.60,454.30 L376.32,454.75 L378.04,455.20 L379.76,455.66 L381.48,456.11 L383.20,456.56 L384.92,457.01 L386.64,457.47 L388.36,457.92 L390.08,458.38 L391.80,458.83 L393.52,459.29 L395.24,459.74 L396.96,460.20 L398.68,460.65 L400.40,461.11 L402.12,461.56 L403.84,462.02 L405.56,462.48 L407.28,462.93 L409.00,463.39 L410.72,463.84 L412.44,464.30 L414.16,464.76 L415.88,465.21 L417.60,465.67 L419.32,466.12 L421.04,466.58 L422.76,467.03 L424.48,467.49 L426.20,467.94 L427.92,468.39 L429.64,468.85 L431.36,469.30 L433.08,469.75 L434.80,470.20 L436.52,470.65 L438.24,471.10 L439.96,471.55 L441.68,472.00 L443.41,472.45 L445.13,472.90 L446.85,473.35 L448.57,473.79 L450.29,474.24 L452.01,474.69 L453.73,475.13 L455.45,475.57 L457.17,476.02 L458.89,476.46 L460.61,476.90 L462.33,477.34 L464.05,477.78 L465.77,478.21 L467.49,478.65 L469.21,479.08 L470.93,479.52 L472.65,479.95 L474.37,480.38 L476.09,480.82 L477.81,481.24 L479.53,481.67 L481.25,482.10 L482.97,482.53 L484.69,482.95 L486.41,483.37 L488.13,483.80 L489.85,484.22 L491.57,484.64 L493.29,485.05 L495.01,485.47 L496.73,485.89 L498.45,486.30 L500.17,486.71 L501.89,487.12 L503.61,487.53 L505.33,487.94 L507.05,488.35 L508.77,488.75 L510.49,489.16 L512.21,489.56 L513.94,489.96 L515.66,490.36 L517.38,490.75 L519.10,491.15 L520.82,491.54 L522.54,491.93 L524.26,492.32 L525.98,492.71 L527.70,493.10 L529.42,493.49 L531.14,493.87 L532.86,494.25 L534.58,494.63 L536.30,495.01 L538.02,495.39 L539.74,495.76 L541.46,496.14 L543.18,496.51 L544.90,496.88 L546.62,497.25 L548.34,497.61 L550.06,497.98 L551.78,498.34 L553.50,498.70 L555.22,499.06 L556.94,499.42 L558.66,499.78 L560.38,500.13 L562.10,500.48 L563.82,500.83 L565.54,501.18 L567.26,501.53 L568.98,501.87 L570.70,502.22 L572.42,502.56 L574.14,502.90 L575.86,503.24 L577.58,503.57 L579.30,503.91 L581.02,504.24 L582.74,504.57 L584.46,504.90 L586.19,505.23 L587.91,505.55 L589.63,505.88 L591.35,506.20 L593.07,506.52 L594.79,506.84 L596.51,507.16 L598.23,507.47 L599.95,507.79 L601.67,508.10 L603.39,508.41 L605.11,508.72 L606.83,509.02 L608.55,509.33 L610.27,509.63 L611.99,509.93 L613.71,510.23 L615.43,510.53 L617.15,510.83 L618.87,511.12 L620.59,511.41 L622.31,511.70 L624.03,511.99 L625.75,512.28 L627.47,512.57 L629.19,512.85 L630.91,513.13 L632.63,513.42 L634.35,513.70 L636.07,513.97 L637.79,514.25 L639.51,514.52 L641.23,514.80 L642.95,515.07 L644.67,515.34 L646.39,515.61 L648.11,515.87 L649.83,516.14 L651.55,516.40 L653.27,516.66 L654.99,516.92 L656.72,517.18 L658.44,517.44 L660.16,517.70 L661.88,517.95 L663.60,518.20 L665.32,518.45 L667.04,518.70 L668.76,518.95 L670.48,519.20 L672.20,519.44 L673.92,519.69 L675.64,519.93 L677.36,520.17 L679.08,520.41 L680.80,520.65 L682.52,520.89 L684.24,521.12 L685.96,521.35 L687.68,521.59 L689.40,521.82 L691.12,522.05 L692.84,522.28 L694.56,522.50 L696.28,522.73 L698.00,522.95 L699.72,523.18 L701.44,523.40 L703.16,523.62 L704.88,523.84 L706.60,524.05 L708.32,524.27 L710.04,524.48 L711.76,524.70 L713.48,524.91 L715.20,525.12 L716.92,525.33 L718.64,525.54 L720.36,525.75 L722.08,525.95 L723.80,526.16 L725.52,526.36 L727.24,526.56 L728.97,526.77 L730.69,526.97 L732.41,527.16 L734.13,527.36 L735.85,527.56 L737.57,527.75 L739.29,527.95 L741.01,528.14 L742.73,528.33 L744.45,528.52 L746.17,528.71 L747.89,528.90 L749.61,529.09 L751.33,529.28 L753.05,529.46 L754.77,529.64 L756.49,529.83 L758.21,530.01 L759.93,530.19 L761.65,530.37 L763.37,530.55 L765.09,530.73 L766.81,530.90 L768.53,531.08 L770.25,531.25 L771.97,531.43 L773.69,531.60 L775.41,531.77 L777.13,531.94 L778.85,532.11 L780.57,532.28 L782.29,532.45 L784.01,532.61 L785.73,532.78 L787.45,532.94 L789.17,533.11 L790.89,533.27 L792.61,533.43 L794.33,533.59 L796.05,533.75 L797.77,533.91 L799.49,534.07 L801.22,534.23 L802.94,534.39 L804.66,534.54 L806.38,534.70 L808.10,534.85 L809.82,535.00 L811.54,535.15 L813.26,535.31 L814.98,535.46 L816.70,535.61 L818.42,535.75 L820.14,535.90 L821.86,536.05 L823.58,536.20 L825.30,536.34 L827.02,536.49 L828.74,536.63 L830.46,536.77 L832.18,536.91 L833.90,537.06 L835.62,537.20 L837.34,537.34 L839.06,537.47 L840.78,537.61 L842.50,537.75 L844.22,537.89 L845.94,538.02 L847.66,538.16 L849.38,538.29 L851.10,538.43 L852.82,538.56 L854.54,538.69 L856.26,538.82 L857.98,538.95 L859.70,539.08 L861.42,539.21 L863.14,539.34 L864.86,539.47 L866.58,539.60 L868.30,539.72 L870.02,539.85 L871.75,539.98 L873.47,540.10 L875.19,540.23 L876.91,540.35 L878.63,540.47 L880.35,540.59 L882.07,540.71 L883.79,540.84 L885.51,540.96 L887.23,541.07 L888.95,541.19 L890.67,541.31 L892.39,541.43 L894.11,541.55 L895.83,541.66 L897.55,541.78 L899.27,541.89 L900.99,542.01 L902.71,542.12 L904.43,542.24 L906.15,542.35 L907.87,542.46 L909.59,542.57 L911.31,542.68 L913.03,542.79 L914.75,542.90 L916.47,543.01 L918.19,543.12 L919.91,543.23 L921.63,543.34 L923.35,543.44 L925.07,543.55 L926.79,543.66 L928.51,543.76 L930.23,543.87 L931.95,543.97 L933.67,544.08 L935.39,544.18 L937.11,544.28 L938.83,544.38 L940.55,544.49 L942.27,544.59 L944.00,544.69 L945.72,544.79 L947.44,544.89 L949.16,544.99 L950.88,545.09 L952.60,545.19 L954.32,545.28 L956.04,545.38 L957.76,545.48 L959.48,545.57 L961.20,545.67 L962.92,545.77 L964.64,545.86 L966.36,545.96 L968.08,546.05 L969.80,546.14 L971.52,546.24 L973.24,546.33 L974.96,546.42 L976.68,546.51 L978.40,546.60" stroke="#000" stroke-width="6.2325" stroke-dasharray="6.232 10.284"/></g>
<line x1="543.6" y1="383.9" x2="608.4" y2="383.9" stroke="#ff0000" stroke-width="6.2325"/>
<line x1="543.6" y1="416.3" x2="608.4" y2="416.3" stroke="#6495ed" stroke-width="6.2325"/>
<line x1="543.6" y1="449.2" x2="608.4" y2="449.2" stroke="#000" stroke-width="6.2325" stroke-dasharray="6.232 10.284" stroke-dashoffset="-3.1"/>
<text transform="translate(629.10,394.00) scale(1,1.03)" font-size="28.7" >feedforward signals</text>
<text transform="translate(886.2,394) scale(1.16,1.03)" font-size="28.7" font-style="italic">r</text>
<text transform="translate(629.10,426.60) scale(1,1.03)" font-size="28.7" >feedback errors</text>
<text transform="translate(836.5,426.6) scale(1.16,1.03)" font-size="28.7" font-style="italic">e</text>
<text transform="translate(629.10,459.20) scale(1,1.03)" font-size="28.7" >adjoint variables</text>
<g fill="none" stroke="#000" stroke-linecap="round"><path d="M850.5,439.7 C852.6,438.9 854.4,439.7 855.3,441.6 L861.4,458.5" stroke-width="3.0"/><path d="M856.4,450.0 L848.3,458.3" stroke-width="2.4"/></g>
<g stroke="#000" stroke-width="3.4" fill="none" stroke-linecap="square">
<path d="M120.0,11.3 L120.0,330.8 L978.4,330.8" stroke-linejoin="miter"/>
<path d="M120.0,362.7 L120.0,681.7 L978.4,681.7" stroke-linejoin="miter"/>
</g>
<g stroke="#000" stroke-width="3.4">
<line x1="105.40" y1="303.00" x2="120.0" y2="303.00"/>
<line x1="105.40" y1="244.30" x2="120.0" y2="244.30"/>
<line x1="105.40" y1="170.35" x2="120.0" y2="170.35"/>
<line x1="105.40" y1="70.00" x2="120.0" y2="70.00"/>
<line x1="105.40" y1="12.0" x2="120.0" y2="12.0"/>
<line x1="111.70" y1="270.70" x2="120.0" y2="270.70"/>
<line x1="111.70" y1="221.99" x2="120.0" y2="221.99"/>
<line x1="111.70" y1="202.65" x2="120.0" y2="202.65"/>
<line x1="111.70" y1="185.60" x2="120.0" y2="185.60"/>
<line x1="105.40" y1="641.34" x2="120.0" y2="641.34"/>
<line x1="105.40" y1="522.20" x2="120.0" y2="522.20"/>
<line x1="105.40" y1="403.06" x2="120.0" y2="403.06"/>
<line x1="120.00" y1="681.7" x2="120.00" y2="696.80"/>
<line x1="263.07" y1="681.7" x2="263.07" y2="696.80"/>
<line x1="406.13" y1="681.7" x2="406.13" y2="696.80"/>
<line x1="549.20" y1="681.7" x2="549.20" y2="696.80"/>
<line x1="692.27" y1="681.7" x2="692.27" y2="696.80"/>
<line x1="835.33" y1="681.7" x2="835.33" y2="696.80"/>
<line x1="978.40" y1="681.7" x2="978.40" y2="696.80"/>
</g>
<text transform="translate(44.40,315.20) scale(1,1.03)" font-size="33.24" >0.4</text>
<text transform="translate(44.40,256.50) scale(1,1.03)" font-size="33.24" >0.6</text>
<path d="M56.55,182.55 L56.55,158.70 L54.15,158.70 C53.45,161.30 51.65,162.40 48.10,162.60 L48.10,165.60 L53.25,165.60 L53.25,182.55 Z" fill="#000"/><text transform="translate(62.88,182.55) scale(1,1.03)" font-size="33.24" >.0</text>
<text transform="translate(44.40,82.20) scale(1,1.03)" font-size="33.24" >2.0</text>
<text transform="translate(44.40,24.20) scale(1,1.03)" font-size="33.24" >3.0</text>
<text transform="translate(72.12,534.40) scale(1,1.03)" font-size="33.24" >0</text>
<g fill="none" stroke="#000" stroke-linecap="round"><path d="M74.10,393.60 C75.10,392.00 76.10,391.70 77.40,391.70 L88.40,391.70" stroke-width="1.9"/><path d="M79.40,392.20 C78.60,395.80 77.80,398.20 76.80,400.20" stroke-width="2.4"/><path d="M83.70,392.20 C83.30,395.30 83.40,398.30 84.30,400.20" stroke-width="2.3"/></g><rect x="71.90" y="406.00" width="19" height="1.6" fill="#000"/><text x="81.40" y="427.90" font-size="25" text-anchor="middle">2</text>
<g fill="none" stroke="#000" stroke-linecap="round"><path d="M74.10,632.10 C75.10,630.50 76.10,630.20 77.40,630.20 L88.40,630.20" stroke-width="1.9"/><path d="M79.40,630.70 C78.60,634.30 77.80,636.70 76.80,638.70" stroke-width="2.4"/><path d="M83.70,630.70 C83.30,633.80 83.40,636.80 84.30,638.70" stroke-width="2.3"/></g><rect x="71.90" y="644.50" width="19" height="1.6" fill="#000"/><text x="81.40" y="666.40" font-size="25" text-anchor="middle">2</text>
<rect x="42.4" y="644.4" width="21.5" height="1.6" fill="#000"/>
<rect x="86.00" y="725.0" width="21.8" height="2.1" fill="#000"/>
<path d="M122.55,734.80 L122.55,710.95 L120.15,710.95 C119.45,713.55 117.65,714.65 114.10,714.85 L114.10,717.85 L119.25,717.85 L119.25,734.80 Z" fill="#000"/><text transform="translate(128.88,734.80) scale(1,1.03)" font-size="33.24" >.0</text>
<rect x="229.07" y="725.0" width="21.8" height="2.1" fill="#000"/>
<text transform="translate(253.46,734.80) scale(1,1.03)" font-size="33.24" >0.5</text>
<text transform="translate(383.03,734.80) scale(1,1.03)" font-size="33.24" >0.0</text>
<text transform="translate(526.10,734.80) scale(1,1.03)" font-size="33.24" >0.5</text>
<path d="M681.31,734.80 L681.31,710.95 L678.91,710.95 C678.21,713.55 676.41,714.65 672.86,714.85 L672.86,717.85 L678.01,717.85 L678.01,734.80 Z" fill="#000"/><text transform="translate(687.65,734.80) scale(1,1.03)" font-size="33.24" >.0</text>
<path d="M824.38,734.80 L824.38,710.95 L821.98,710.95 C821.28,713.55 819.48,714.65 815.93,714.85 L815.93,717.85 L821.08,717.85 L821.08,734.80 Z" fill="#000"/><text transform="translate(830.71,734.80) scale(1,1.03)" font-size="33.24" >.5</text>
<text transform="translate(955.30,734.80) scale(1,1.03)" font-size="33.24" >2.0</text>
<text font-size="33.35" text-anchor="middle" transform="translate(29.6,170.7) rotate(-90) scale(1,1.03)">total gain</text>
<text font-size="33.24" text-anchor="middle" transform="translate(24.2,522.0) rotate(-90) scale(1,1.03)">total phase shift [rad]</text>
<g fill="none" stroke="#000" stroke-linecap="round"><path d="M510.70,764.30 C512.00,762.30 513.40,761.30 515.60,761.30 L526.30,761.30" stroke-width="2.25"/><path d="M519.60,762.00 L516.80,773.60" stroke-width="2.8"/></g>
<g fill="none" stroke="#000" stroke-linecap="round"><path d="M554.00,764.30 C555.30,762.30 556.70,761.30 558.90,761.30 L569.60,761.30" stroke-width="2.25"/><path d="M562.90,762.00 L560.10,773.60" stroke-width="2.8"/></g>
<text x="525.4" y="778.8" font-size="24.6">r</text>
<text x="568.4" y="778.8" font-size="24.9">m</text>
<line x1="550.1" y1="750.3" x2="536.2" y2="787.8" stroke="#000" stroke-width="2.2" stroke-linecap="round"/>
</svg></body></html>
